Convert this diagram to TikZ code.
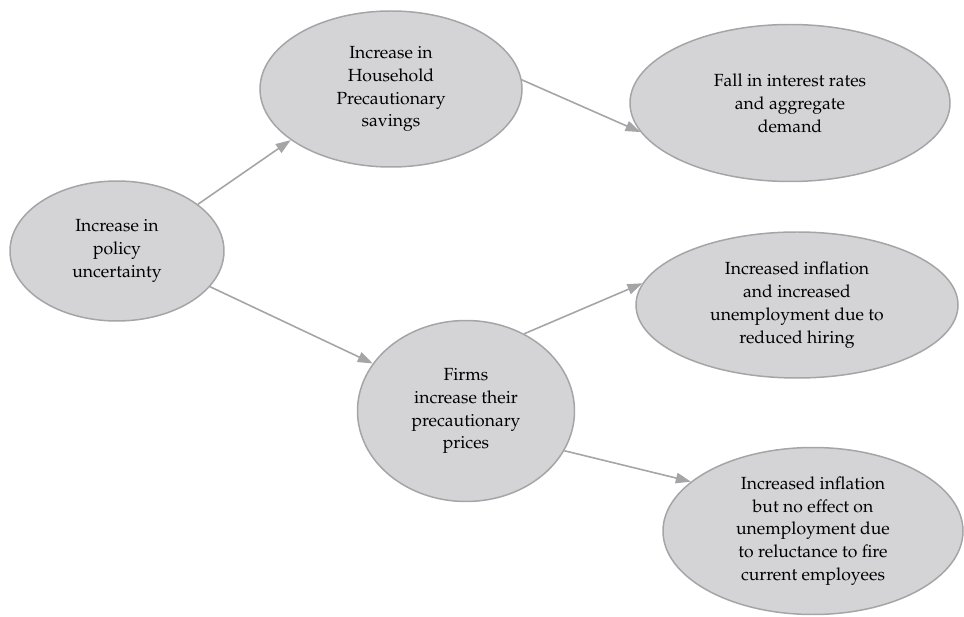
\documentclass[tikz,border=0pt]{standalone}
\usepackage[T1]{fontenc}
\usepackage{mathpazo}
\usetikzlibrary{shapes.geometric}
\usetikzlibrary{arrows.meta}
\definecolor{blobfill}{RGB}{212,212,214}
\definecolor{blobline}{RGB}{165,165,167}

\begin{document}
\begin{tikzpicture}[
         bubble/.style = {ellipse,draw=blobline,line width=0.85pt,fill=blobfill,
         inner sep=0pt,align=center,font=\fontsize{10}{13}\selectfont},
         link/.style = {draw=blobline,line width=0.9pt,
         -{Triangle[length=3mm,width=2.1mm]}}
]
      \useasboundingbox (0,0) rectangle (19.28,12.32);

      \node[bubble,minimum width=4.28cm,minimum height=2.80cm] (policy) at (2.34,7.30)
         {Increase in\\ policy\\ uncertainty};
      \node[bubble,minimum width=5.24cm,minimum height=3.12cm] (saving) at (7.82,10.54)
         {Increase in\\ Household\\ Precautionary\\ savings};
      \node[bubble,minimum width=6.40cm,minimum height=3.14cm] (demand) at (15.80,10.26)
         {Fall in interest rates\\ and aggregate\\ demand};
      \node[bubble,minimum width=4.34cm,minimum height=3.62cm] (firms) at (9.32,4.10)
         {Firms\\ increase their\\ precautionary\\ prices};
      \node[bubble,minimum width=6.44cm,minimum height=2.92cm] (hiring) at (15.94,6.22)
         {Increased inflation\\ and increased\\ unemployment due to\\ reduced hiring};
      \node[bubble,minimum width=6.00cm,minimum height=3.34cm] (firing) at (16.26,1.70)
         {Increased inflation\\ but no effect on\\ unemployment due\\ to reluctance to fire\\ current employees};

      %\draw[link] (policy) -- (saving);
      \draw[link] (policy.30) -- (saving.207);
      \draw[link] (policy.-21) -- (firms.153);
      \draw[link] (saving.4) -- (demand.191);
      \draw[link] (firms.53) -- (hiring.172);
      \draw[link] (firms.-22) -- (firing.158);
   \end{tikzpicture}
\end{document}
